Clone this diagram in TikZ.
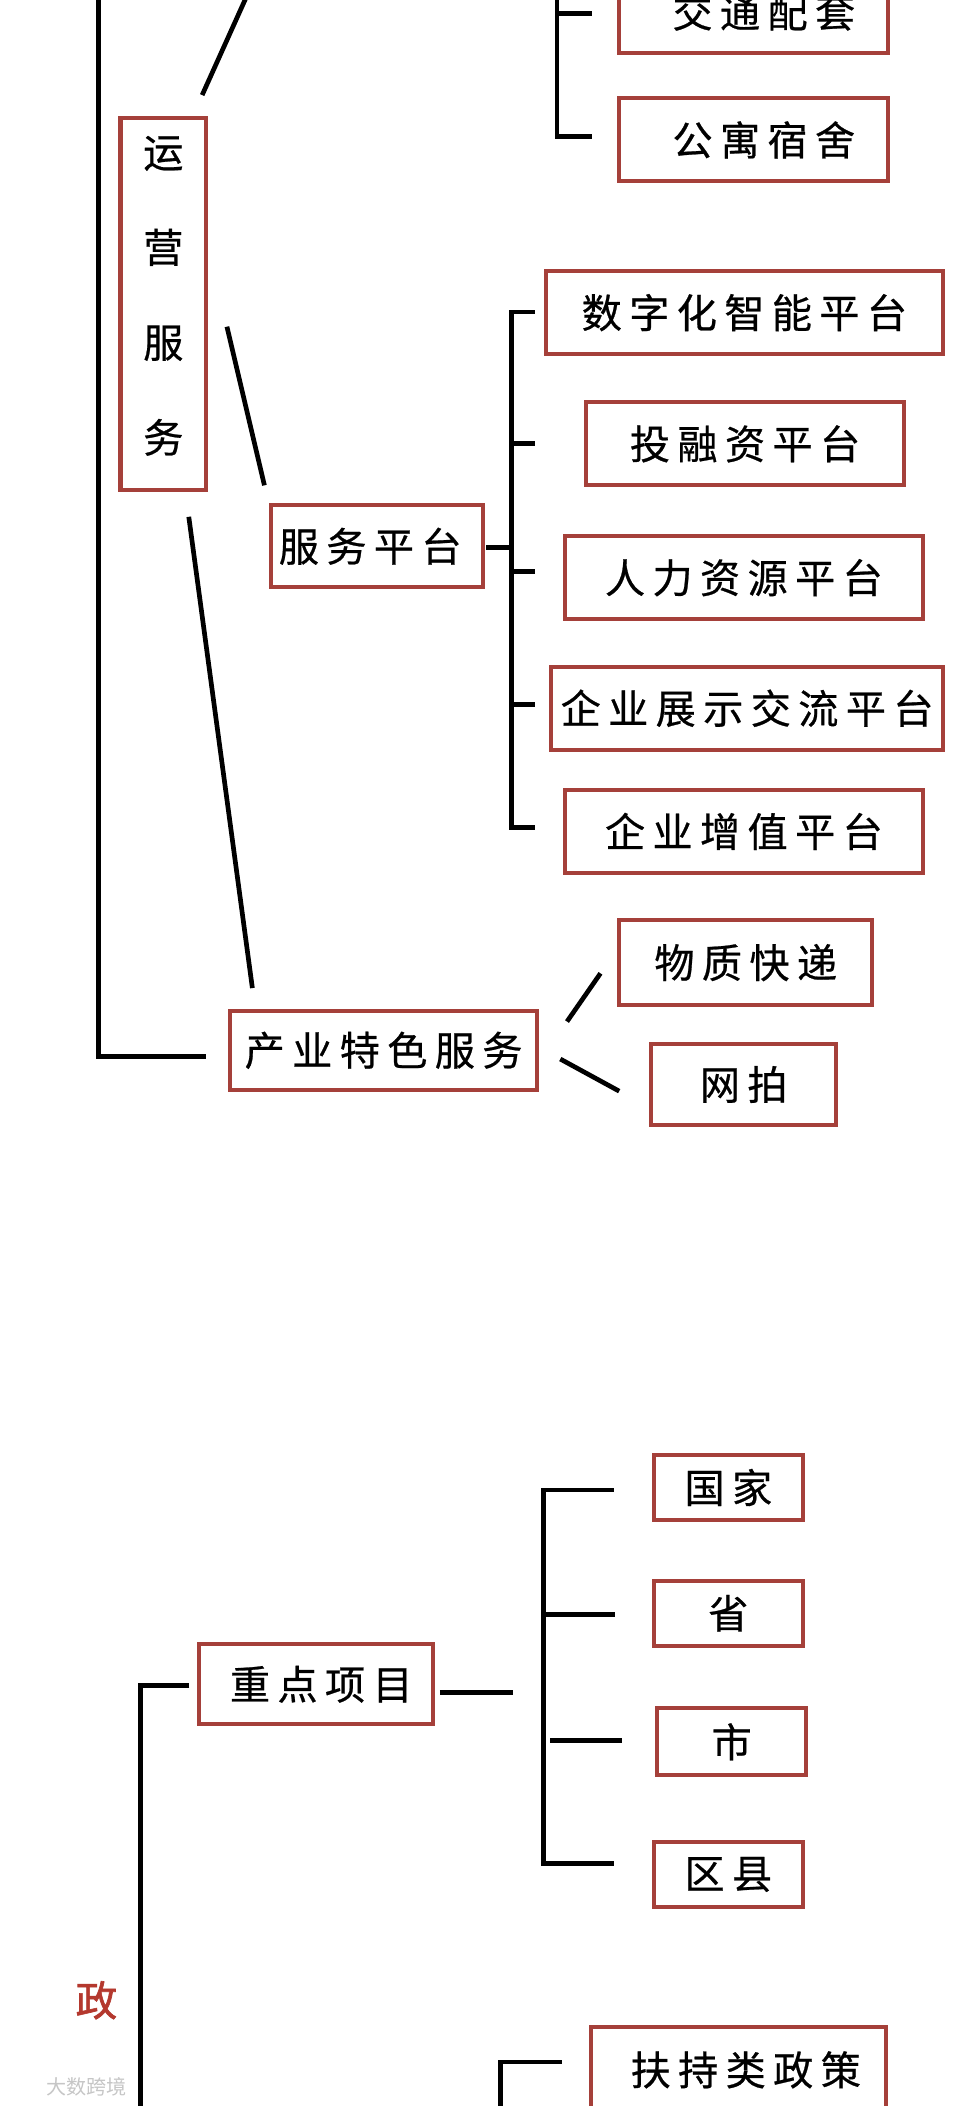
\documentclass[tikz,border=0pt]{standalone}
\usepackage{fontspec}
\newfontfamily\cjk{Noto Sans CJK SC}
\newfontfamily\cjkm[FakeBold=0.6]{Noto Sans CJK SC}
\newfontfamily\cjkb[FakeBold=1.5]{Noto Sans CJK SC}
\definecolor{boxred}{RGB}{165,64,58}
\definecolor{zhengred}{RGB}{180,56,46}
\newlength\chargap \setlength\chargap{5.5pt}
\makeatletter
\newcommand\spc[1]{\spc@loop#1\relax}
\def\spc@loop#1#2{#1\ifx\relax#2\expandafter\@gobble\else\hspace{\chargap}\expandafter\@firstofone\fi{\spc@loop#2}}
\makeatother
\begin{document}
\begin{tikzpicture}[x=1pt,y=-1pt,
  box/.style={draw=boxred,line width=3pt,inner sep=0pt,text=black,
    font=\cjkm\fontsize{30}{35}\selectfont},
  ln/.style={line width=3.5pt,black,line join=miter}]
\useasboundingbox (0,0) rectangle (717,1573);
\clip (0,0) rectangle (717,1573);
\fill[white] (0,0) rectangle (717,1573);

% ---------- nodes, upper part ----------
\node[box,minimum width=201pt,minimum height=61pt] (jt) at (563,9) {\hspace*{15pt}\spc{交通配套}};
\node[box,minimum width=201pt,minimum height=62pt] (gy) at (563,104.5) {\hspace*{15pt}\spc{公寓宿舍}};
\node[box,minimum width=64pt,minimum height=278pt,
      font=\cjkm\fontsize{30}{71}\selectfont] (yy) at (122,227)
      {\parbox{40pt}{\centering 运\\营\\服\\务\par\vspace*{12pt}}};
\node[box,minimum width=297pt,minimum height=62pt] (sz) at (556,233.5) {\spc{数字化智能平台}};
\node[box,minimum width=238pt,minimum height=62pt] (tr) at (556.5,331.5) {\spc{投融资平台}};
\node[box,minimum width=158pt,minimum height=61pt] (fw) at (281.5,408) {\spc{服务平台}\hspace*{10pt}};
\node[box,minimum width=267pt,minimum height=62pt] (rl) at (555.6,431.5) {\spc{人力资源平台}};
\node[box,minimum width=293pt,minimum height=62pt] (qz) at (558,529) {\spc{企业展示交流平台}};
\node[box,minimum width=267pt,minimum height=62pt] (qzz) at (555.6,621) {\spc{企业增值平台}};
\node[box,minimum width=189pt,minimum height=63pt] (wz) at (557,719) {\spc{物质快递}};
\node[box,minimum width=138pt,minimum height=61pt] (wp) at (555.5,810) {\spc{网拍}};
\node[box,minimum width=229pt,minimum height=59pt] (cy) at (286.5,784.5) {\spc{产业特色服务}};

% ---------- nodes, lower part ----------
\node[box,minimum width=175pt,minimum height=60pt] (zd) at (236,1258) {\hspace*{8pt}\spc{重点项目}};
\node[box,minimum width=111pt,minimum height=49pt] (gj) at (544,1111) {\spc{国家}};
\node[box,minimum width=111pt,minimum height=49pt] (sh) at (544,1205) {\spc{省}};
\node[box,minimum width=111.5pt,minimum height=50pt] (ss) at (546.5,1301) {\spc{市}};
\node[box,minimum width=111pt,minimum height=49pt] (qx) at (544,1400) {\spc{区县}};
\node[box,minimum width=220pt,minimum height=64pt] (fc) at (551.5,1546) {\hspace*{11pt}\spc{扶持类政策}};
\node[text=zhengred,inner sep=0pt,font=\cjkb\fontsize{31}{31}\selectfont] (zheng) at (72,1494) {政};
\node[text=gray!45,inner sep=0pt,font=\cjk\fontsize{15}{15}\selectfont] (wm) at (64.5,1559) {大数跨境};

% ---------- connectors, upper part ----------
\coordinate (trunkTop) at (73.5,-10);
\draw[ln] (trunkTop) |- ([shift={(-17,4.5)}]cy.west);
\coordinate (diagEnd) at (192,-20);
\draw[ln] ([shift={(29,-15.5)}]yy.north) -- (diagEnd);
\draw[ln] ([shift={(14,17)}]yy.east) -- ([shift={(-3.5,-13.5)}]fw.north west);
\draw[ln] ([shift={(19,18.5)}]yy.south) -- ([shift={(18,-15.5)}]cy.north west);

\coordinate (tbTop) at (416,-10);
\draw[ln] (tbTop) |- ([shift={(-18.5,-2.5)}]gy.west);
\coordinate (tbX) at (416,0);
\draw[ln] (tbX |- 0,10) -- ([shift={(-18.5,1)}]jt.west);

\coordinate (spX) at (382,0);
\coordinate (pTop) at ([shift={(-6.5,-0.5)}]sz.west);
\coordinate (pBot) at ([shift={(-21.1,-3)}]qzz.west);
\draw[ln] (pTop) -- (spX |- pTop) -- (spX |- pBot) -- (pBot);
\coordinate (pTr) at ([shift={(-36.5,-0.5)}]tr.west);
\coordinate (pRl) at ([shift={(-21.1,-4.5)}]rl.west);
\coordinate (pQz) at ([shift={(-10.5,-3)}]qz.west);
\draw[ln] (spX |- pTr) -- (pTr);
\draw[ln] (spX |- pRl) -- (pRl);
\draw[ln] (spX |- pQz) -- (pQz);
\draw[ln] ([shift={(1,1)}]fw.east) -- (spX |- 0,409);

\draw[ln] ([shift={(21,-21.5)}]cy.east) -- ([shift={(-12.5,8)}]wz.west);
\draw[ln] ([shift={(16,6.5)}]cy.east) -- ([shift={(-22.5,5)}]wp.west);

% ---------- connectors, lower part ----------
\draw[ln] ([shift={(3.5,6)}]zd.east) -- ++(55,0);
\coordinate (lX) at (406,0);
\coordinate (gTop) at ([shift={(-28.5,2)}]gj.west);
\coordinate (gBot) at ([shift={(-28.5,-8)}]qx.west);
\draw[ln] (gTop) -- (lX |- gTop) -- (lX |- gBot) -- (gBot);
\coordinate (gSh) at ([shift={(-27.5,1)}]sh.west);
\draw[ln] (lX |- gSh) -- (gSh);
\draw[ln] ([shift={(-24.75,-1)}]ss.west) -- ++(-54,0);
\coordinate (trunkBot) at (105,1600);
\draw[ln] ([shift={(-5.5,1)}]zd.west) -| (trunkBot);
\coordinate (fcBot) at (374,1600);
\draw[ln] ([shift={(-20.5,-6)}]fc.west) -| (fcBot);
\end{tikzpicture}
\end{document}
